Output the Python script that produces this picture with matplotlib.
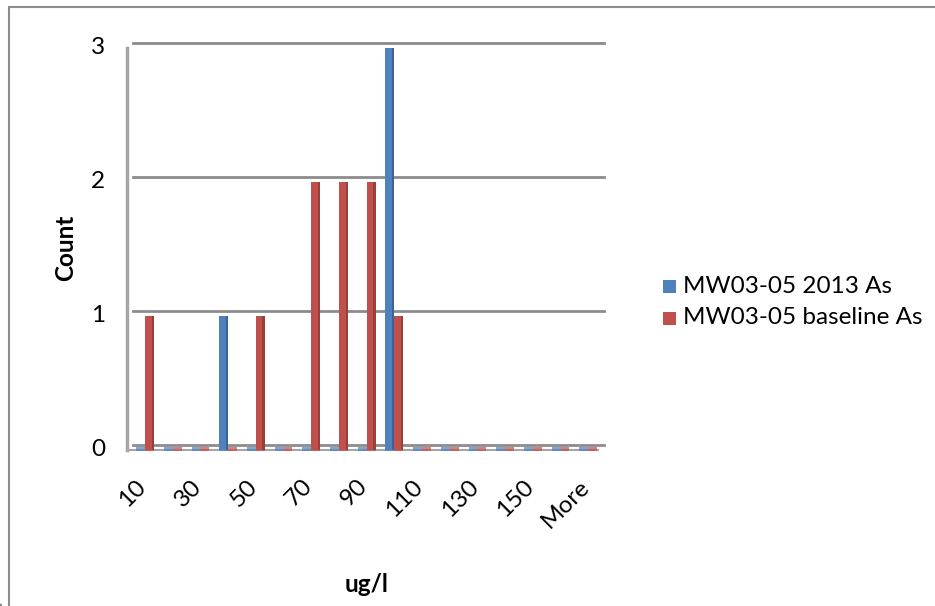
import numpy as np
import matplotlib.pyplot as plt
import matplotlib.transforms as mtransforms
from matplotlib.patches import Rectangle

plt.rcParams['font.family'] = ['Lato', 'DejaVu Sans']

bins = ['10', '20', '30', '40', '50', '60', '70', '80', '90', '100',
        '110', '120', '130', '140', '150', '160', 'More']
count_2013 = [0, 0, 0, 1, 0, 0, 0, 0, 0, 3, 0, 0, 0, 0, 0, 0, 0]
count_baseline = [1, 0, 0, 0, 1, 0, 2, 2, 2, 1, 0, 0, 0, 0, 0, 0, 0]
series_names = ['MW03-05 2013 As', 'MW03-05 baseline As']

blue, blue_dark = '#4F81BD', '#3B6598'
red, red_dark = '#C0504D', '#983E3B'
grey = '#8C8C8C'
fs = 17.5

W, H = 935, 606
fig = plt.figure(figsize=(W / 100, H / 100), dpi=100)
ax = fig.add_axes([127 / W, 1 - 450 / H, (598 - 127) / W, (450 - 48) / H])
ax.set_xlim(0, len(bins))
ax.set_ylim(0, 3)
ax.axis('off')

# depth of the back wall, in pixels
dx, dy = 6, 5
back = mtransforms.ScaledTranslation(dx / 100, dy / 100, fig.dpi_scale_trans)
ytrans = ax.get_yaxis_transform()

# back wall gridlines plus the little diagonal joining them to the front edge
for v in range(0, 4):
    ax.plot([0, 1], [v, v], transform=ytrans + back, color=grey, lw=2,
            clip_on=False, zorder=1)
    p0 = ax.transData.transform((0, v))
    fig.lines.append(plt.Line2D([p0[0] / W, (p0[0] + dx) / W],
                                [p0[1] / H, (p0[1] + dy) / H],
                                color=grey, lw=2, zorder=1))
    # y tick mark and label
    fig.lines.append(plt.Line2D([(p0[0] - 9) / W, p0[0] / W],
                                [p0[1] / H, p0[1] / H], color=grey, lw=1.5))
    fig.text((p0[0] - 22) / W, p0[1] / H, str(v), ha='right', va='center',
             fontsize=fs)

# left wall edge
ax.plot([0, 0], [0, 3], color='#A6A6A6', lw=2.5, clip_on=False, zorder=2)

# floor: front edge and right-hand corner
ax.plot([0, 1], [0, 0], transform=ytrans, color='#A6A6A6', lw=1.5,
        clip_on=False, zorder=2)
pr = ax.transData.transform((len(bins), 0))
fig.lines.append(plt.Line2D([pr[0] / W, (pr[0] + dx) / W],
                            [pr[1] / H, (pr[1] + dy) / H], color=grey, lw=1.5))

# bars, each with a darker side face
x = np.arange(len(bins))
bw = 0.32
side = 0.08
for vals, off, c, cd in [(count_2013, 0.33, blue, blue_dark),
                         (count_baseline, 0.65, red, red_dark)]:
    left = x + off
    ax.bar(left, vals, width=bw - side, align='edge', color=c, zorder=3,
           clip_on=False)
    ax.bar(left + bw - side, vals, width=side, align='edge', color=cd,
           zorder=3, clip_on=False)
    # flat footprint on the floor
    ax.bar(left, [0.025] * len(vals), bottom=-0.005, width=bw,
           align='edge', color=c, alpha=0.7, zorder=2, clip_on=False)

# x tick marks at slot boundaries, labels on every second bin
for i in range(len(bins) + 1):
    px = ax.transData.transform((i, 0))
    fig.lines.append(plt.Line2D([px[0] / W, px[0] / W],
                                [px[1] / H, (px[1] - 8) / H],
                                color=grey, lw=1.5))
for i in range(0, len(bins), 2):
    px = ax.transData.transform((i + 0.5, 0))
    fig.text((px[0] + 2) / W, (px[1] - 33) / H, bins[i], rotation=45,
             ha='right', va='center', rotation_mode='anchor', fontsize=fs)

fig.text(66 / W, 1 - 248 / H, 'Count', rotation=90, ha='center',
         va='center', fontsize=fs, fontweight='bold')
fig.text(367 / W, 1 - 585 / H, 'ug/l', ha='center', va='center',
         fontsize=fs, fontweight='bold')

# legend
for k, (name, c) in enumerate(zip(series_names, [blue, red])):
    yc = 286 + k * 32
    fig.patches.append(Rectangle((663 / W, 1 - (yc + 7) / H), 13 / W,
                                 13 / H, transform=fig.transFigure,
                                 facecolor=c, edgecolor='none'))
    fig.text(683 / W, 1 - yc / H, name, ha='left', va='center', fontsize=fs)

# chart area border
fig.patches.append(Rectangle((9 / W, -0.05), 1.1, 1.05 - 7 / H,
                             transform=fig.transFigure, facecolor='none',
                             edgecolor=grey, lw=1.5))

fig.savefig('out.png', dpi=100)
